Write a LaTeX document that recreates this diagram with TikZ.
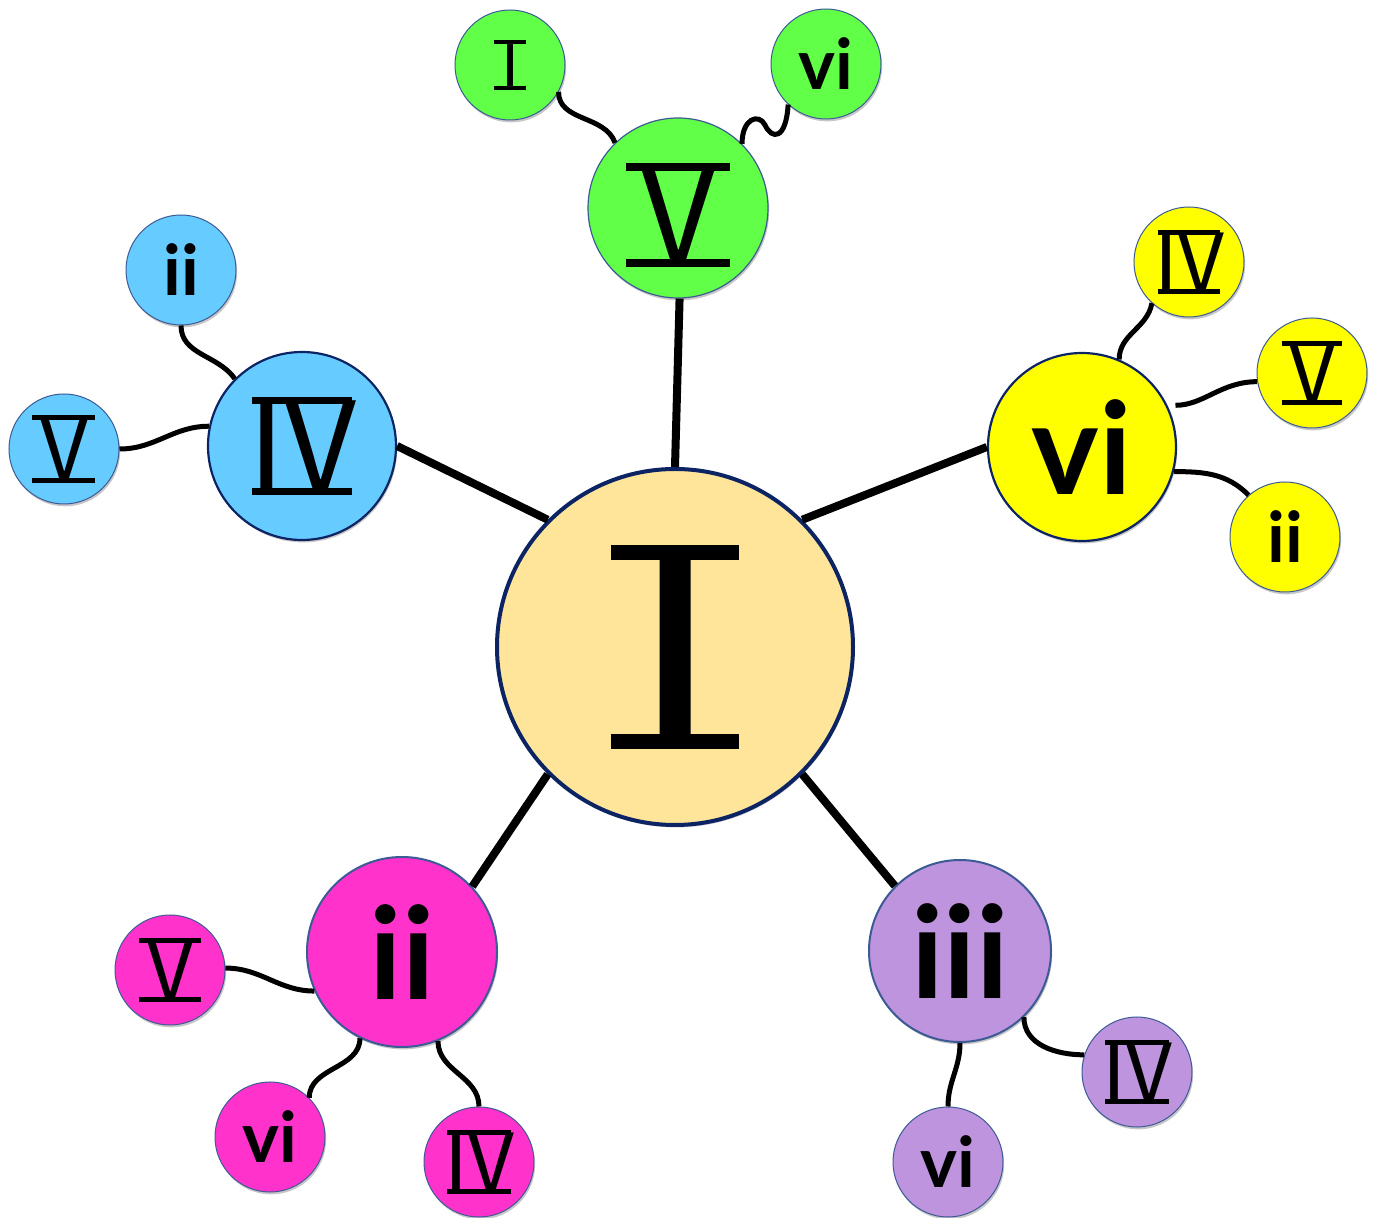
\documentclass[tikz,border=0pt]{standalone}
\usepackage{fontspec}
\newfontfamily\cjk{Noto Sans CJK JP}
\newfontfamily\cjkheavy[FakeBold=2.5]{Noto Sans CJK JP}
\newfontfamily\lat{Lato}
\usetikzlibrary{shadows}
\definecolor{cfill}{RGB}{254,229,154}
\definecolor{navy}{RGB}{12,36,99}
\definecolor{slate}{RGB}{60,90,150}
\definecolor{gfill}{RGB}{98,255,72}
\definecolor{bfill}{RGB}{102,204,255}
\definecolor{yfill}{RGB}{255,255,0}
\definecolor{mfill}{RGB}{255,51,204}
\definecolor{pfill}{RGB}{191,148,222}
\newcommand\myfs[1]{\fontsize{#1}{#1}\selectfont}
% roman numeral with bars above and below: #1 bar width (em), #2 text
\newcommand\bnum[2]{\vbox{\offinterlineskip\setbox0\hbox{#2}%
  \dimen0=#1em\relax
  \hbox to\dimen0{\rule{\dimen0}{0.058em}}%
  \kern-0.025em
  \hbox to\dimen0{\hss\box0\hss}%
  \kern-0.025em
  \hbox to\dimen0{\rule{\dimen0}{0.058em}}}}
\newcommand\low[2]{{\lat\bfseries\myfs{#1}#2}}
\begin{document}
\begin{tikzpicture}[x=0.5pt,y=-0.5pt,
  ball/.style={circle,inner sep=0pt,font=\cjk,
    drop shadow={shadow xshift=0.6pt,shadow yshift=-1.2pt,opacity=0.22,fill=black}},
  mainball/.style={ball,minimum size=#1},
  sat/.style={ball,minimum size=55pt,draw=slate,line width=0.5pt},
  spoke/.style={line width=4pt},
  wave/.style={line width=2.5pt}]
\useasboundingbox (0,0) rectangle (1377,1218);
% central and main nodes
\node[mainball=178pt,fill=cfill,draw=navy,line width=2pt] (C) at (675,647) {\cjkheavy\myfs{128}\bnum{0.5}{Ⅰ}};
\node[mainball=90pt,fill=gfill,draw=slate,line width=0.6pt] (V) at (678,208) {\vbox{\kern7pt\myfs{65}\bnum{0.8}{Ⅴ}}};
\node[mainball=94pt,fill=bfill,draw=navy,line width=1.1pt] (IV) at (302,446) {\myfs{62}\bnum{0.8}{Ⅳ}};
\node[mainball=94pt,fill=yfill,draw=navy,line width=1.1pt] (vi) at (1082,447) {\low{64}{vi}};
\node[mainball=95pt,fill=mfill,draw=slate,line width=1pt] (ii) at (402,952) {\low{64}{ii}};
\node[mainball=91pt,fill=pfill,draw=slate,line width=1pt] (iii) at (960,951) {\low{64}{iii}};
% satellites
\node[sat,fill=gfill] (gI) at (510,65) {\myfs{31}\bnum{0.53}{Ⅰ}};
\node[sat,fill=gfill] (gvi) at (826,64) {\low{35}{vi}};
\node[sat,fill=bfill] (bii) at (181,270) {\low{35}{ii}};
\node[sat,fill=bfill] (bV) at (64,449) {\myfs{42}\bnum{0.75}{Ⅴ}};
\node[sat,fill=yfill] (yIV) at (1189,262) {\myfs{40}\bnum{0.78}{Ⅳ}};
\node[sat,fill=yfill] (yV) at (1312,373) {\myfs{40}\bnum{0.76}{Ⅴ}};
\node[sat,fill=yfill] (yii) at (1285,537) {\low{35}{ii}};
\node[sat,fill=mfill] (mV) at (170,970) {\myfs{40}\bnum{0.77}{Ⅴ}};
\node[sat,fill=mfill] (mvi) at (270,1137) {\low{35}{vi}};
\node[sat,fill=mfill] (mIV) at (479,1162) {\myfs{40}\bnum{0.8}{Ⅳ}};
\node[sat,fill=pfill] (pIV) at (1137,1072) {\myfs{40}\bnum{0.8}{Ⅳ}};
\node[sat,fill=pfill] (pvi) at (948,1162) {\low{35}{vi}};
% spokes
\draw[spoke] (C.90) -- (V.-89);
\draw[spoke] (C.135) -- (IV.0);
\draw[spoke] (C.45) -- (vi.180);
\draw[spoke] (C.225) -- (ii.43);
\draw[spoke] (C.315) -- (iii.135);
% wavy connectors
\draw[wave] (gI.-29) to[out=-90,in=110] (V.134);
\draw[wave] (gvi.227) .. controls (786,140) and (772,140) .. (765,125) .. controls (759,113) and (742,118) .. (V.45);
\draw[wave] (bii.-90) to[out=-90,in=125] (IV.135);
\draw[wave] (bV.0) to[out=0,in=180] (IV.168);
\draw[wave] (yIV.228) to[out=-100,in=90] (vi.67);
\draw[wave,shorten >=4pt] (yV.189) to[out=180,in=0] (vi.26);
\draw[wave] (vi.-15) to[out=0,in=135] (yii.131);
\draw[wave] (mV.2) to[out=0,in=180] (ii.204);
\draw[wave] (ii.-116) to[out=-90,in=90] (mvi.45);
\draw[wave] (ii.-68) to[out=-90,in=90] (mIV.90);
\draw[wave] (iii.-46) to[out=-90,in=180] (pIV.162);
\draw[wave] (iii.-90) to[out=-90,in=90] (pvi.90);
\end{tikzpicture}
\end{document}
